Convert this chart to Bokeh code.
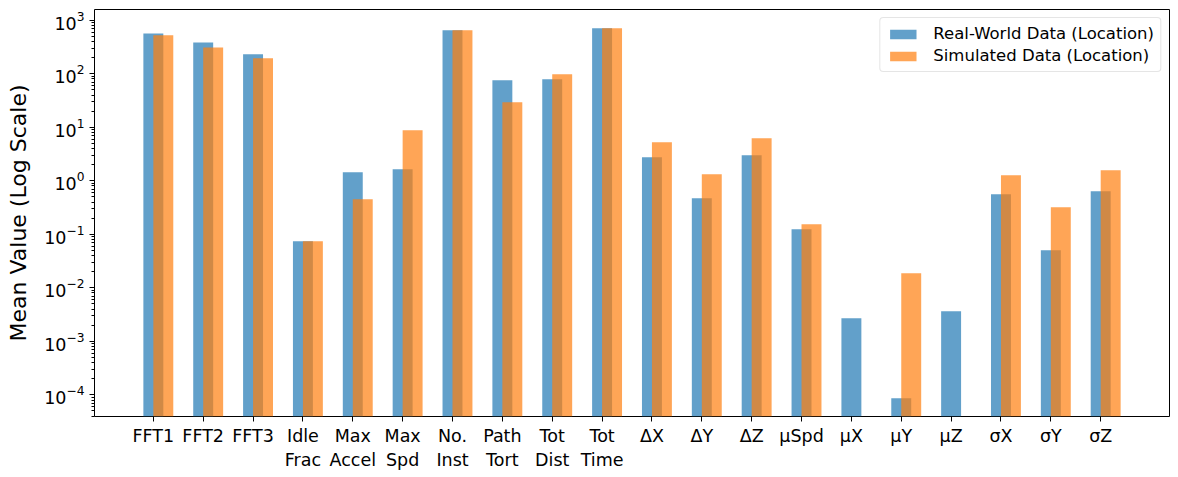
import math
from bokeh.plotting import figure
from bokeh.models import Range1d, ColumnDataSource, Legend, LegendItem, FixedTicker, LogTicker
from bokeh.embed import file_html
from bokeh.resources import INLINE

nan = float("nan")

categories = ["FFT1", "FFT2", "FFT3", "Idle\nFrac", "Max\nAccel", "Max\nSpd", "No.\nInst",
              "Path\nTort", "Tot\nDist", "Tot\nTime", "ΔX", "ΔY", "ΔZ", "μSpd", "μX", "μY",
              "μZ", "σX", "σY", "σZ"]
real_world = [564, 383, 231, 0.074, 1.44, 1.64, 650, 75.7, 78.9, 708, 2.75, 0.471, 3.0,
              0.124, 0.00269, 8.6e-5, 0.00364, 0.56, 0.0502, 0.637]
simulated = [525, 308, 195, 0.074, 0.45, 8.8, 650, 29.3, 98, 708, 5.25, 1.32, 6.2,
             0.154, nan, 0.0187, nan, 1.27, 0.32, 1.57]

BLUE = "#1f77b4"
ORANGE = "#ff7f0e"
FONT = "DejaVu Sans"
n = len(categories)

p = figure(width=1178, height=477, y_axis_type="log", output_backend="svg",
           toolbar_location=None, min_border_left=94, min_border_right=9,
           min_border_top=9, min_border_bottom=61)
p.x_range = Range1d(-1.18, 19.4 + 0.98)
p.y_range = Range1d(10 ** -4.405, 10 ** 3.2)

xr = [i for i in range(n) if not math.isnan(real_world[i])]
xs = [i for i in range(n) if not math.isnan(simulated[i])]
src_r = ColumnDataSource(dict(x=xr, top=[real_world[i] for i in xr]))
src_s = ColumnDataSource(dict(x=[i + 0.2 for i in xs], top=[simulated[i] for i in xs]))

r1 = p.vbar(x="x", top="top", bottom=1e-8, width=0.4, source=src_r,
            fill_color=BLUE, fill_alpha=0.7, line_color=None)
r2 = p.vbar(x="x", top="top", bottom=1e-8, width=0.4, source=src_s,
            fill_color=ORANGE, fill_alpha=0.7, line_color=None)

p.xgrid.visible = False
p.ygrid.visible = False
p.outline_line_color = "black"
p.outline_line_width = 1
p.outline_line_alpha = 1

xa = p.xaxis[0]
xa.ticker = FixedTicker(ticks=list(range(n)))
xa.major_label_overrides = {i: c for i, c in enumerate(categories)}
xa.minor_tick_line_color = None
xa.major_tick_out = 5
xa.major_tick_in = 0
xa.axis_line_color = None
xa.major_label_text_font = FONT
xa.major_label_text_font_size = "17.5px"
xa.major_label_text_color = "black"
xa.major_label_standoff = 4

ya = p.yaxis[0]
ya.ticker = LogTicker(num_minor_ticks=10)
ya.major_tick_out = 5
ya.major_tick_in = 0
ya.minor_tick_out = 3
ya.minor_tick_in = 0
ya.axis_line_color = None
ya.major_label_text_font = FONT
ya.major_label_text_font_size = "17.5px"
ya.major_label_text_color = "black"
ya.axis_label = "Mean Value (Log Scale)"
ya.axis_label_text_font = FONT
ya.axis_label_text_font_size = "22px"
ya.axis_label_text_font_style = "normal"
ya.axis_label_text_color = "black"
ya.axis_label_standoff = 10

legend = Legend(items=[LegendItem(label="Real-World Data (Location)", renderers=[r1]),
                       LegendItem(label="Simulated Data (Location)", renderers=[r2])],
                location="top_right")
legend.label_text_font = FONT
legend.label_text_font_size = "16.5px"
legend.label_text_color = "black"
legend.glyph_width = 33
legend.glyph_height = 12
legend.label_standoff = 14
legend.spacing = 3
legend.padding = 6
legend.margin = 8
legend.border_line_color = "#cccccc"
legend.border_line_width = 1
legend.background_fill_alpha = 0.8
if "border_radius" in Legend.properties():
    legend.border_radius = 4
p.add_layout(legend)

open("out.html", "w").write(file_html(p, INLINE))
